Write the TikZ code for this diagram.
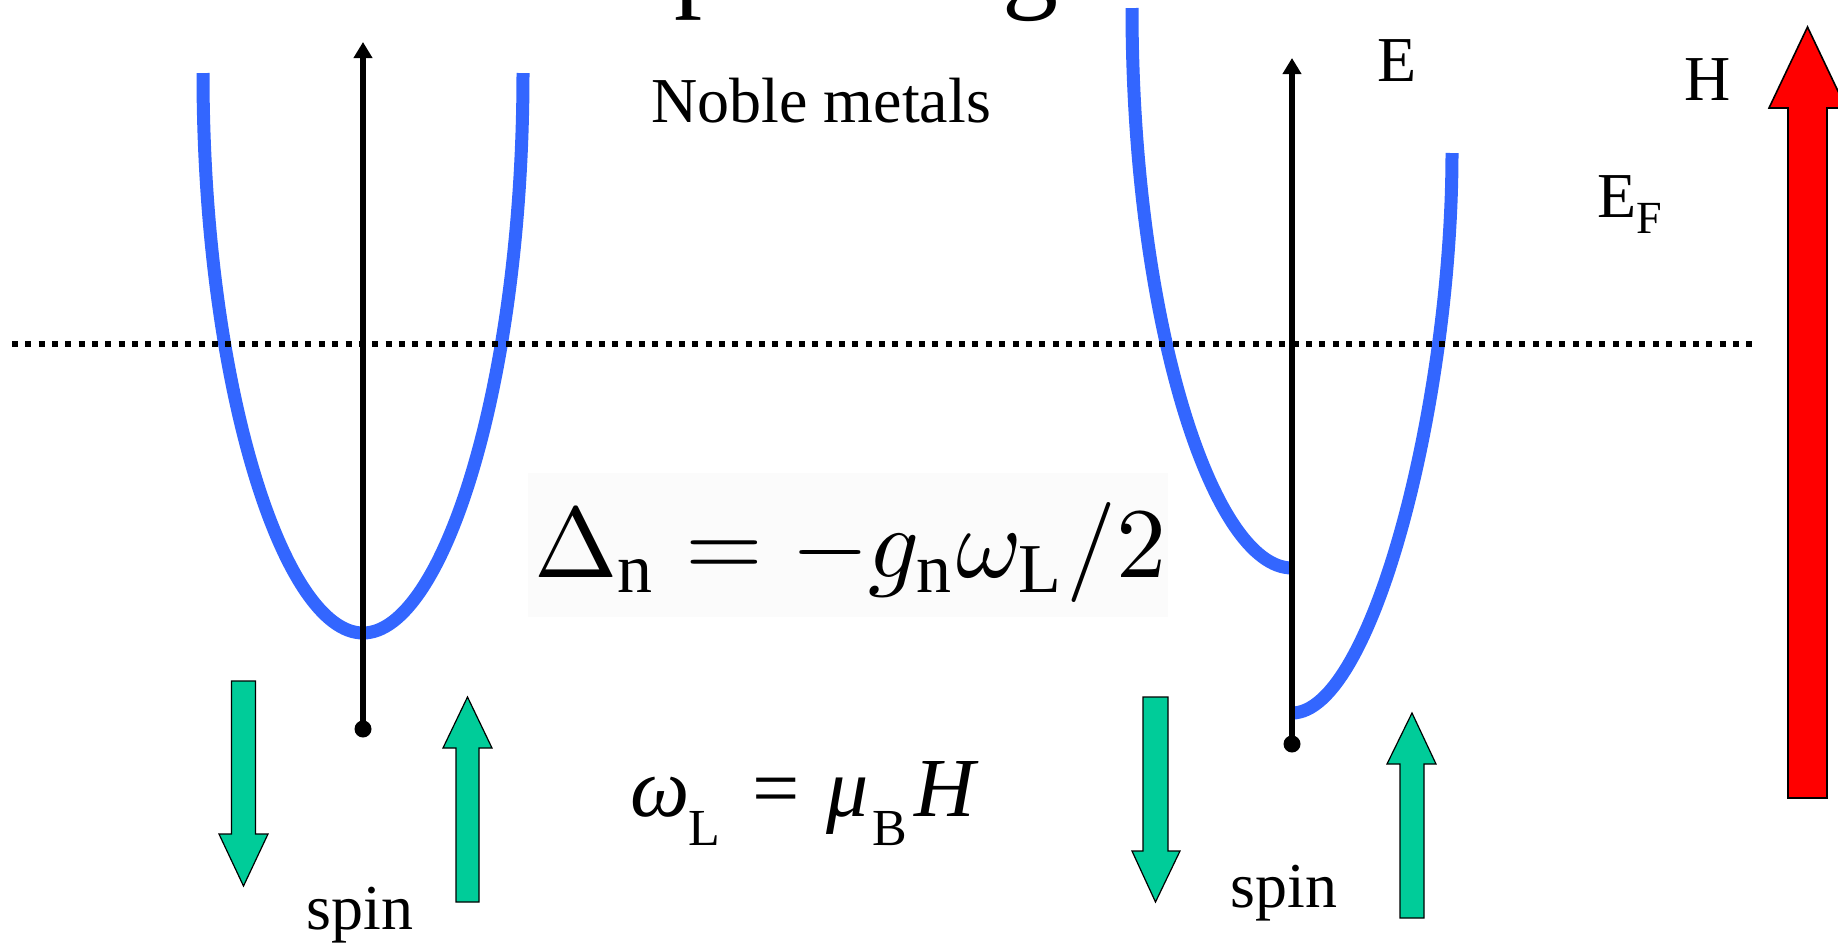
\documentclass[tikz,border=0pt]{standalone}
\usepackage{fontspec}
\setmainfont{Liberation Serif}
\usepackage{graphicx}
\usetikzlibrary{arrows.meta}
\definecolor{bandblue}{RGB}{51,102,255}
\definecolor{spingreen}{RGB}{0,204,153}
\definecolor{fieldred}{RGB}{255,0,0}
\begin{document}
\begin{tikzpicture}[x=0.5pt,y=-0.5pt,
  band/.style={draw=bandblue,line width=6.5pt},
  axisline/.style={draw=black,line width=3.2pt,-{Triangle[length=8pt,width=9pt]}},
  fermi/.style={draw=black,line width=3pt,dash pattern=on 3pt off 3.67pt},
  spinarrow/.style={fill=spingreen,draw=black,line width=0.6pt,line join=miter},
  fieldarrow/.style={fill=fieldred,draw=black,line width=0.8pt,line join=miter},
  lbl/.style={inner sep=0pt,anchor=base west,font=\fontsize{32}{36}\selectfont},
  formula/.style={inner sep=0pt,anchor=base west,font=\fontsize{42}{46}\selectfont},
  formsub/.style={inner sep=0pt,anchor=base west,font=\fontsize{26}{30}\selectfont},
  titlefrag/.style={inner sep=0pt,anchor=base west,font=\fontsize{56}{60}\selectfont},
]
\useasboundingbox (0,0) rectangle (1838,943);

% cut-off title fragments
\node[titlefrag] (titp) at (674,-4) {p};
\node[titlefrag] (titg) at (1002,-3) {g};

% faint background of the formula picture
\fill[black!1.5] (528,473) rectangle (1168,617);

% coordinates of the axes
\coordinate (axL0) at (363,729);
\coordinate (axL1) at (363,42);
\coordinate (axR0) at (1292,744);
\coordinate (axR1) at (1292,58);
\coordinate (fL) at (12,344);
\coordinate (fR) at (1755,344);

% bands
\draw[band] (203,73) .. controls (203,383) and (283,633) .. (363,633)
            .. controls (443,633) and (523,383) .. (523,73);
\draw[band] (1132,8) .. controls (1132,318) and (1212,568) .. (1292,568);
\draw[band] (1292,713) .. controls (1372,713) and (1452,403) .. (1452,153);

% axes
\draw[axisline] (axL0) -- (axL1);
\draw[axisline] (axR0) -- (axR1);
\fill (axL0) circle[radius=4.25pt];
\fill (axR0) circle[radius=4.25pt];

% Fermi level
\draw[fermi] (fL) -- (fR);

% spin arrows
\filldraw[spinarrow] (231.5,681) -- (255.5,681) -- (255.5,834) -- (268,834) -- (243.5,886) -- (219,834) -- (231.5,834) -- cycle;
\filldraw[spinarrow] (456,902) -- (479,902) -- (479,748) -- (492,748) -- (467.5,697) -- (443,748) -- (456,748) -- cycle;
\filldraw[spinarrow] (1143,697) -- (1168,697) -- (1168,851) -- (1180,851) -- (1155.5,902) -- (1132,851) -- (1143,851) -- cycle;
\filldraw[spinarrow] (1400,918) -- (1424,918) -- (1424,764) -- (1436,764) -- (1412,713) -- (1387,764) -- (1400,764) -- cycle;

% field arrow
\filldraw[fieldarrow] (1788,798) -- (1827,798) -- (1827,108) -- (1846,108) -- (1807.5,27) -- (1769,108) -- (1788,108) -- cycle;

% labels
\node[lbl] (noble) at (651,122) {Noble metals};
\node[lbl] (elab) at (1377,81) {E};
\node[lbl] (hlab) at (1684,100) {H};
\node[lbl] (eflab) at (1597,217) {E\raisebox{-8pt}{\fontsize{23}{26}\selectfont F}};
\node[lbl] (spinL) at (306,929) {spin};
\node[lbl] (spinR) at (1230,907) {spin};

% Delta formula
\node[inner sep=0pt,anchor=base west] (delta) at (534,577)
  {\scalebox{5}{$\Delta_{\mathrm{n}} = -g_{\mathrm{n}}\omega_{\mathrm{L}}/2$}};

% Larmor formula
\node[formula] (om) at (630,816) {\itshape ω};
\node[formsub] (omL) at (688,845) {L};
\node[formula] (eq) at (752,816) {=};
\node[formula] (mu) at (826,816) {\itshape μ};
\node[formsub] (muB) at (872,845) {B};
\node[formula] (hH) at (914,816) {\itshape H};
\end{tikzpicture}
\end{document}
